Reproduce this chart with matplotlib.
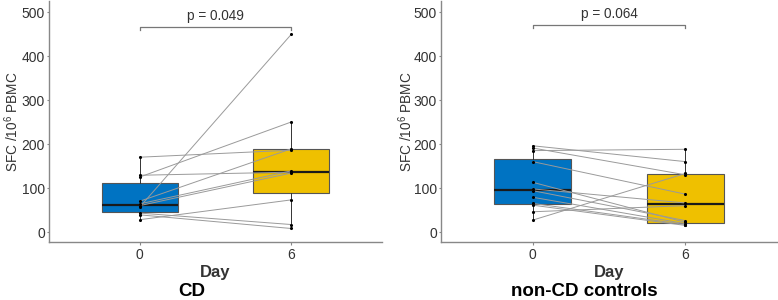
import matplotlib
matplotlib.use("Agg")
import matplotlib.pyplot as plt

plt.rcParams['font.family'] = ['Liberation Sans', 'DejaVu Sans']
plt.rcParams['mathtext.fontset'] = 'custom'
plt.rcParams['mathtext.rm'] = 'Liberation Sans'
plt.rcParams['mathtext.it'] = 'Liberation Sans:italic'

days = ["0", "6"]
colors = ["#0073C2", "#EFC000"]

cd_day0 = [170, 129, 125, 70, 64, 60, 57, 43, 39, 28]
cd_day6 = [186, 136, 250, 189, 139, 134, 449, 17, 8, 73]
cd_p = "p = 0.049"

ctrl_day0 = [196, 191, 185, 160, 113, 98, 94, 79, 65, 61, 46, 27]
ctrl_day6 = [160, 130, 188, 86, 22, 66, 26, 19, 17, 15, 60, 133]
ctrl_p = "p = 0.064"

titles = ["CD", "non-CD controls"]
yticks = [0, 100, 200, 300, 400, 500]

fig = plt.figure(figsize=(7.78, 3.0), dpi=100)
ax_rects = [[49/778, 58/300, 333/778, 241/300], [441/778, 58/300, 336/778, 241/300]]
ylab_x = [(11.5 - 49) / 333, (405.5 - 441) / 336]
panels = [(cd_day0, cd_day6, cd_p, 467), (ctrl_day0, ctrl_day6, ctrl_p, 470)]
txtcol = "#333333"
spinecol = "#888888"

for i, (rect, (d0, d6, ptxt, bry)) in enumerate(zip(ax_rects, panels)):
    ax = fig.add_axes(rect)
    bp = ax.boxplot([d0, d6], positions=[0, 1], widths=0.5, patch_artist=True,
                    showcaps=False, showfliers=False, whis=1.5, zorder=1)
    for patch, c in zip(bp['boxes'], colors):
        patch.set_facecolor(c)
        patch.set_edgecolor("#555555")
        patch.set_linewidth(0.8)
    for w in bp['whiskers']:
        w.set_color("#333333")
        w.set_linewidth(0.7)
    for m in bp['medians']:
        m.set_color("#1a1a1a")
        m.set_linewidth(1.6)
    for a, b in zip(d0, d6):
        ax.plot([0, 1], [a, b], color="#9a9a9a", lw=0.7, zorder=3)
    ax.scatter([0]*len(d0), d0, s=5, color="black", zorder=4, linewidths=0)
    ax.scatter([1]*len(d6), d6, s=5, color="black", zorder=4, linewidths=0)
    # bracket
    ax.plot([0, 0, 1, 1], [bry - 7, bry, bry, bry - 7], color="#777777", lw=0.9, zorder=2)
    ax.text(0.5, bry + 9, ptxt, ha="center", va="bottom", fontsize=9.8, color=txtcol)

    ax.set_xlim(-0.6, 1.6)
    ax.set_ylim(-22.7, 525)
    ax.set_xticks([0, 1])
    ax.set_xticklabels(days)
    ax.set_yticks(yticks)
    for s in ["top", "right"]:
        ax.spines[s].set_visible(False)
    for s in ["left", "bottom"]:
        ax.spines[s].set_color(spinecol)
        ax.spines[s].set_linewidth(1.0)
    ax.tick_params(axis="both", colors=spinecol, labelcolor=txtcol, labelsize=10,
                   length=1.8, width=0.8, pad=1.2)
    ax.tick_params(axis="x", pad=2.5)
    ax.set_ylabel(r"SFC /10$^{6}$ PBMC", fontsize=9.8, color=txtcol)
    ax.yaxis.label.set_verticalalignment("center")
    ax.yaxis.set_label_coords(ylab_x[i], 0.5)
    ax.set_xlabel("Day", fontsize=12, fontweight="bold", color=txtcol, labelpad=2)
    cx = 192/778 if i == 0 else 584/778
    fig.text(cx, 8/300, titles[i], ha="center", va="center", fontsize=13.5,
             fontweight="bold", color="black")

fig.savefig("out.png", dpi=100)
